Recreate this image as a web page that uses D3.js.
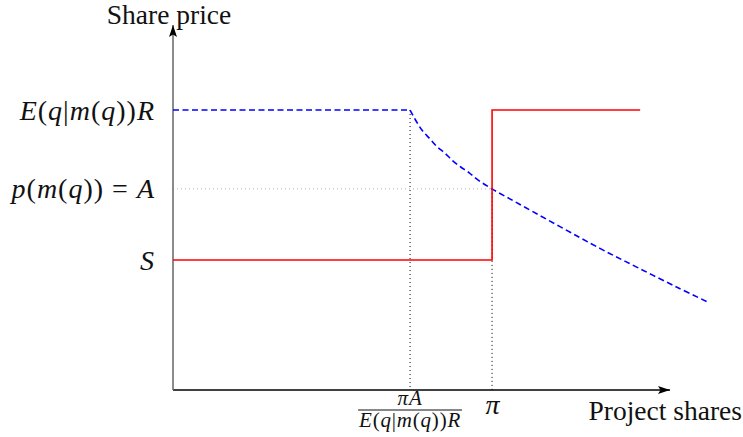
<!DOCTYPE html>
<html>
<head>
<meta charset="utf-8">
<script src="https://cdn.jsdelivr.net/npm/d3@7"></script>
<style>
  body { margin: 0; background: #fff; }
  text { font-family: "Liberation Serif", "Times New Roman", serif; fill: #111; }
</style>
</head>
<body>
<div id="chart"></div>
<script>
// chart values (arbitrary units, axis runs 0..10 on both sides)
var yLevels = [7.67, 5.51, 3.56];
var yLabels = ["E(q|m(q))R", "p(m(q)) = A", "S"];
var xMarks = [4.77, 6.42];
var xLabels = ["frac", "π"];

// red step line
var redStep = [[0, 3.56], [6.42, 3.56], [6.42, 7.67], [9.4, 7.67]];
// blue dashed: flat part, then falling curve
var blueFlat = [[0, 7.67], [4.77, 7.67]];
var blueCurve = [[4.77, 7.67], [4.90, 7.35], [5.02, 7.10], [5.17, 6.88], [5.31, 6.67],
                 [5.47, 6.49], [5.63, 6.28], [5.79, 6.11], [5.96, 5.95], [6.14, 5.75],
                 [6.42, 5.51], [6.88, 5.16], [8.59, 3.88], [9.34, 3.36], [10.12, 2.83], [10.76, 2.41]];

var svgWidth = 743;
var svgHeight = 437;

var svg = d3.select("#chart")
    .append("svg")
    .attr("width", svgWidth)
    .attr("height", svgHeight);

var xScale = d3.scaleLinear().domain([0, 10]).range([173, 670]);
var yScale = d3.scaleLinear().domain([0, 10]).range([390, 25]);

// arrow heads
var defs = svg.append("defs");
function arrow(id, color) {
    defs.append("marker")
        .attr("id", id)
        .attr("viewBox", "0 0 12 8")
        .attr("refX", 12)
        .attr("refY", 4)
        .attr("markerUnits", "userSpaceOnUse")
        .attr("markerWidth", 12)
        .attr("markerHeight", 8)
        .attr("orient", "auto")
        .append("path")
        .attr("d", "M0,0 L12,4 L0,8 L2.5,4 Z")
        .attr("fill", color);
}
arrow("arrowX", "#000");
arrow("arrowY", "#000");

// helper lines
svg.append("line")
    .attr("x1", xScale(0)).attr("x2", xScale(xMarks[1]))
    .attr("y1", yScale(yLevels[1])).attr("y2", yScale(yLevels[1]))
    .attr("stroke", "#b0b0b0").attr("stroke-width", 1)
    .attr("stroke-dasharray", "1,3");

svg.append("line")
    .attr("x1", xScale(xMarks[0])).attr("x2", xScale(xMarks[0]))
    .attr("y1", yScale(yLevels[0])).attr("y2", yScale(0))
    .attr("stroke", "#000").attr("stroke-width", 1)
    .attr("stroke-dasharray", "1,3");

svg.append("line")
    .attr("x1", xScale(xMarks[1])).attr("x2", xScale(xMarks[1]))
    .attr("y1", yScale(yLevels[1])).attr("y2", yScale(0))
    .attr("stroke", "#000").attr("stroke-width", 1)
    .attr("stroke-dasharray", "1,3");

// axes lines
svg.append("line")
    .attr("x1", xScale(0)).attr("y1", yScale(0))
    .attr("x2", xScale(10)).attr("y2", yScale(0))
    .attr("stroke", "#000").attr("stroke-width", 1.3)
    .attr("marker-end", "url(#arrowX)");

svg.append("line")
    .attr("x1", xScale(0)).attr("y1", yScale(0))
    .attr("x2", xScale(0)).attr("y2", yScale(10))
    .attr("stroke", "#6e6e6e").attr("stroke-width", 1.6)
    .attr("marker-end", "url(#arrowY)");

// series
var line = d3.line().x(d => xScale(d[0])).y(d => yScale(d[1]));
var curve = d3.line().x(d => xScale(d[0])).y(d => yScale(d[1])).curve(d3.curveCatmullRom);

svg.append("path")
    .attr("d", line(blueFlat))
    .attr("fill", "none").attr("stroke", "#0000ff").attr("stroke-width", 1.6)
    .attr("stroke-dasharray", "6,3.5");

svg.append("path")
    .attr("d", curve(blueCurve))
    .attr("fill", "none").attr("stroke", "#0000ff").attr("stroke-width", 1.6)
    .attr("stroke-dasharray", "6,3.5");

svg.append("path")
    .attr("d", line(redStep))
    .attr("fill", "none").attr("stroke", "#ff0000").attr("stroke-width", 1.6);

// math text: letters italic, symbols upright
function mathRuns(text, str) {
    text.text(null);
    var runs = str.match(/[A-Za-zπ]+|[^A-Za-zπ]+/g);
    runs.forEach(function(r) {
        text.append("tspan")
            .attr("font-style", /[A-Za-zπ]/.test(r) ? "italic" : "normal")
            .text(r);
    });
}

// y labels through axis
var leftAxis = d3.axisLeft(yScale)
    .tickValues(yLevels)
    .tickSize(0)
    .tickPadding(18)
    .tickFormat((d, i) => yLabels[i]);

var gy = svg.append("g")
    .attr("transform", `translate(${xScale(0)},0)`)
    .call(leftAxis);
gy.select(".domain").remove();
gy.selectAll("text")
    .attr("font-size", 28)
    .attr("letter-spacing", 1)
    .attr("font-family", null)
    .each(function(d, i) { mathRuns(d3.select(this), yLabels[i]); });

// x labels through axis
var bottomAxis = d3.axisBottom(xScale)
    .tickValues(xMarks)
    .tickSize(0)
    .tickPadding(4)
    .tickFormat((d, i) => xLabels[i]);

var gx = svg.append("g")
    .attr("transform", `translate(0,${yScale(0)})`)
    .call(bottomAxis);
gx.select(".domain").remove();
gx.selectAll("text")
    .attr("font-size", 28)
    .attr("font-family", null)
    .each(function(d, i) {
        var t = d3.select(this);
        if (xLabels[i] === "frac") {
            t.remove();
        } else {
            mathRuns(t, xLabels[i]);
        }
    });

// fraction label under first mark
var fx = xScale(xMarks[0]);
var frac = svg.append("g").attr("font-size", 21).attr("letter-spacing", 0.8);
mathRuns(frac.append("text").attr("x", fx).attr("y", 405).attr("text-anchor", "middle"), "πA");
svg.append("line")
    .attr("x1", fx - 52).attr("x2", fx + 52)
    .attr("y1", 410).attr("y2", 410)
    .attr("stroke", "#111").attr("stroke-width", 1);
mathRuns(frac.append("text").attr("x", fx).attr("y", 427).attr("text-anchor", "middle"), "E(q|m(q))R");

// axis titles
svg.append("text")
    .attr("x", 169)
    .attr("y", 24)
    .attr("text-anchor", "middle")
    .attr("font-size", 27.5)
    .text("Share price");

svg.append("text")
    .attr("x", 742)
    .attr("y", 420)
    .attr("text-anchor", "end")
    .attr("font-size", 27.5)
    .text("Project shares");
</script>
</body>
</html>
